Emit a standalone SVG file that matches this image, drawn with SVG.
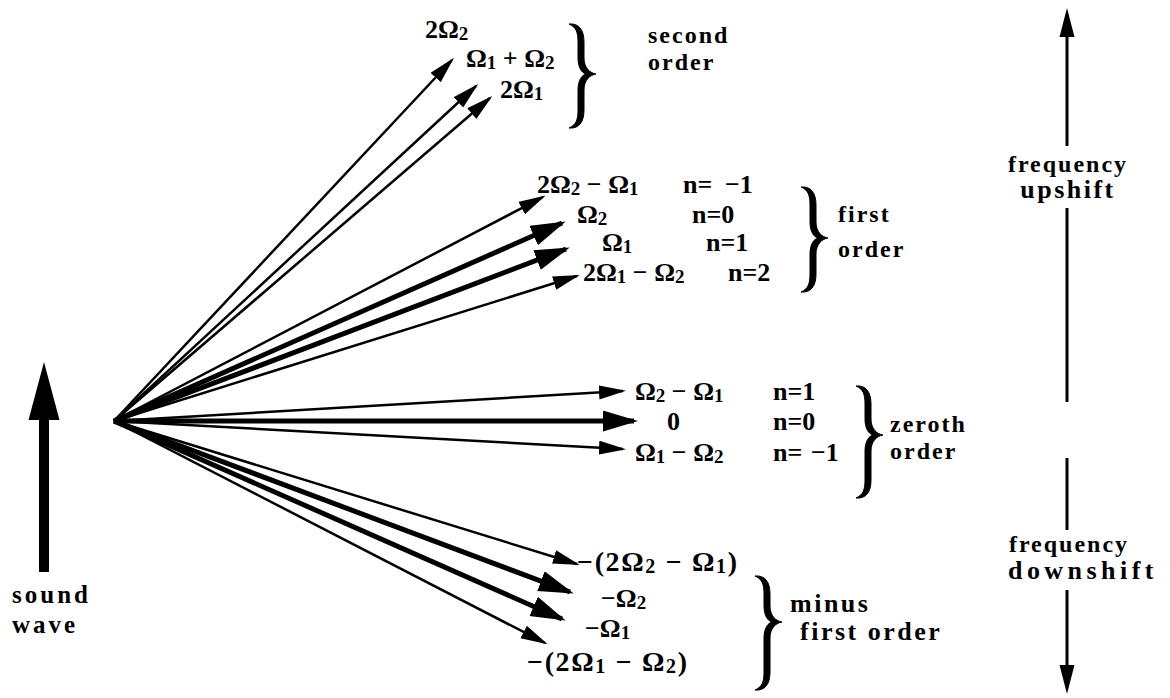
<svg xmlns="http://www.w3.org/2000/svg" width="1170" height="698" viewBox="0 0 1170 698">
<defs>
<style>
.m{font-size:26px;font-weight:bold;fill:#000}
.mb{font-size:28px;font-weight:bold;fill:#000}
.w{font-size:24px;font-weight:bold;letter-spacing:2px;fill:#000}
.wb{font-size:26px;font-weight:bold;letter-spacing:2.5px;fill:#000}
.wc{font-size:25px;font-weight:bold;letter-spacing:3px;fill:#000}
.s{font-size:19px}
.s2{font-size:20px}
.thin{stroke:#000;stroke-width:2.5;fill:none;marker-end:url(#ah)}
.thick{stroke:#000;stroke-width:5;fill:none;marker-end:url(#ahb)}
.axis{stroke:#000;stroke-width:3;fill:none}
.brace{fill:#000;stroke:#000;stroke-width:1}
</style>
<marker id="ah" markerUnits="userSpaceOnUse" markerWidth="30" markerHeight="16" refX="24" refY="7" orient="auto"><path d="M0,0 L27,7 L0,14 Z" fill="#000"/></marker>
<marker id="ahb" markerUnits="userSpaceOnUse" markerWidth="38" markerHeight="22" refX="31" refY="10.5" orient="auto"><path d="M0,0 L35,10.5 L0,21 Z" fill="#000"/></marker>
</defs>
<rect width="1170" height="698" fill="#fff"/>

<g id="connectors">
<line class="thin" x1="114" y1="421" x2="452" y2="60"/>
<line class="thin" x1="114" y1="421" x2="476" y2="86"/>
<line class="thin" x1="114" y1="421" x2="490" y2="98"/>
<line class="thin" x1="114" y1="421" x2="543" y2="197"/>
<line class="thick" x1="114" y1="421" x2="562" y2="223"/>
<line class="thick" x1="114" y1="421" x2="566" y2="249"/>
<line class="thin" x1="114" y1="421" x2="577" y2="276"/>
<line class="thin" x1="114" y1="421" x2="623" y2="391"/>
<line class="thick" x1="114" y1="421" x2="634" y2="421"/>
<line class="thin" x1="114" y1="421" x2="623" y2="449"/>
<line class="thin" x1="114" y1="421" x2="577" y2="564"/>
<line class="thick" x1="114" y1="421" x2="570" y2="592"/>
<line class="thick" x1="114" y1="421" x2="562" y2="619"/>
<line class="thin" x1="114" y1="421" x2="545" y2="643"/>
</g>

<g font-family="Liberation Serif, Times New Roman, DejaVu Serif, serif">
<g id="sound-wave">
<path d="M39,572 L39,420 L28.5,420 L44,362 L59.5,420 L49,420 L49,572 Z" fill="#000"/>
<text class="wc" x="12" y="603">sound</text>
<text class="wc" x="12" y="633">wave</text>
</g>

<g id="frequency-axis">
<line class="axis" x1="1067" y1="30" x2="1067" y2="146"/>
<path d="M1067,8 L1074.5,37 L1059.5,37 Z" fill="#000"/>
<text class="w" x="1068" y="172" text-anchor="middle">frequency</text>
<text class="wb" x="1068" y="198" text-anchor="middle">upshift</text>
<line class="axis" x1="1067" y1="208" x2="1067" y2="402"/>
<line class="axis" x1="1067" y1="458" x2="1067" y2="530"/>
<text class="w" x="1069" y="552" text-anchor="middle">frequency</text>
<text class="wb" x="1082" y="579" text-anchor="middle" textLength="148" lengthAdjust="spacing">downshift</text>
<line class="axis" x1="1067" y1="590" x2="1067" y2="672"/>
<path d="M1067,694 L1074.5,665 L1059.5,665 Z" fill="#000"/>
</g>

<g id="second-order">
<text class="m" x="425" y="38">2Ω<tspan class="s" dy="2">2</tspan></text>
<text class="m" x="466" y="67">Ω<tspan class="s" dy="2">1</tspan><tspan dy="-2"> + Ω</tspan><tspan class="s" dy="2">2</tspan></text>
<text class="m" x="500" y="98">2Ω<tspan class="s" dy="2">1</tspan></text>
<path class="brace" d="M569,24 C579,23 584,30 584,42 L584,58 C584,68 590,73 596,74 C590,75 584,80 584,90 L584,110 C584,122 579,129 569,128 C576,125 578,120 578,110 L578,90 C578,80 582,75 586,74 C582,73 578,68 578,58 L578,42 C578,32 576,27 569,24 Z"/>
<text class="w" x="648" y="43">second</text>
<text class="w" x="648" y="70">order</text>
</g>

<g id="first-order">
<text class="m" x="537" y="193">2Ω<tspan class="s" dy="2">2</tspan><tspan dy="-2"> − Ω</tspan><tspan class="s" dy="2">1</tspan></text>
<text class="m" x="683" y="193">n=<tspan x="725">−1</tspan></text>
<text class="m" x="577" y="223">Ω<tspan class="s" dy="2">2</tspan></text>
<text class="m" x="692" y="223">n=0</text>
<text class="m" x="602" y="251">Ω<tspan class="s" dy="2">1</tspan></text>
<text class="m" x="706" y="251">n=1</text>
<text class="m" x="583" y="281">2Ω<tspan class="s" dy="2">1</tspan><tspan dy="-2"> − Ω</tspan><tspan class="s" dy="2">2</tspan></text>
<text class="m" x="728" y="281">n=2</text>
<path class="brace" d="M801,187 C811,186 816,193 816,205 L816,222 C816,232 822,237 828,238 C822,239 816,244 816,254 L816,274 C816,286 811,293 801,292 C808,289 810,284 810,274 L810,254 C810,244 814,239 818,238 C814,237 810,232 810,222 L810,205 C810,195 808,190 801,187 Z"/>
<text class="w" x="838" y="222">first</text>
<text class="w" x="838" y="257">order</text>
</g>

<g id="zeroth-order">
<text class="m" x="635" y="400">Ω<tspan class="s" dy="2">2</tspan><tspan dy="-2"> − Ω</tspan><tspan class="s" dy="2">1</tspan></text>
<text class="m" x="773" y="400">n=1</text>
<text class="m" x="667" y="430">0</text>
<text class="m" x="773" y="430">n=0</text>
<text class="m" x="635" y="461">Ω<tspan class="s" dy="2">1</tspan><tspan dy="-2"> − Ω</tspan><tspan class="s" dy="2">2</tspan></text>
<text class="m" x="773" y="461">n=<tspan x="811">−1</tspan></text>
<path class="brace" d="M856,386 C866,385 871,392 871,404 L871,419 C871,429 877,434 883,435 C877,436 871,441 871,451 L871,480 C871,492 866,499 856,498 C863,495 865,490 865,480 L865,451 C865,441 869,436 873,435 C869,434 865,429 865,419 L865,404 C865,394 863,389 856,386 Z"/>
<text class="w" x="890" y="432">zeroth</text>
<text class="w" x="890" y="459">order</text>
</g>

<g id="minus-first-order">
<text class="mb" x="577" y="571" textLength="160" lengthAdjust="spacing">−(2Ω<tspan class="s2" dy="2">2</tspan><tspan dy="-2"> − Ω</tspan><tspan class="s2" dy="2">1</tspan><tspan dy="-2">)</tspan></text>
<text class="m" x="601" y="607">−Ω<tspan class="s" dy="2">2</tspan></text>
<text class="m" x="585" y="637">−Ω<tspan class="s" dy="2">1</tspan></text>
<text class="mb" x="527" y="671" textLength="160" lengthAdjust="spacing">−(2Ω<tspan class="s2" dy="2">1</tspan><tspan dy="-2"> − Ω</tspan><tspan class="s2" dy="2">2</tspan><tspan dy="-2">)</tspan></text>
<path class="brace" d="M755,576 C765,575 770,582 770,594 L770,606 C770,616 776,621 782,622 C776,623 770,628 770,638 L770,672 C770,684 765,691 755,690 C762,687 764,682 764,672 L764,638 C764,628 768,623 772,622 C768,621 764,616 764,606 L764,594 C764,584 762,579 755,576 Z"/>
<text class="wb" x="790" y="612">minus</text>
<text class="wb" x="800" y="640" letter-spacing="3">first order</text>
</g>
</g>
</svg>
